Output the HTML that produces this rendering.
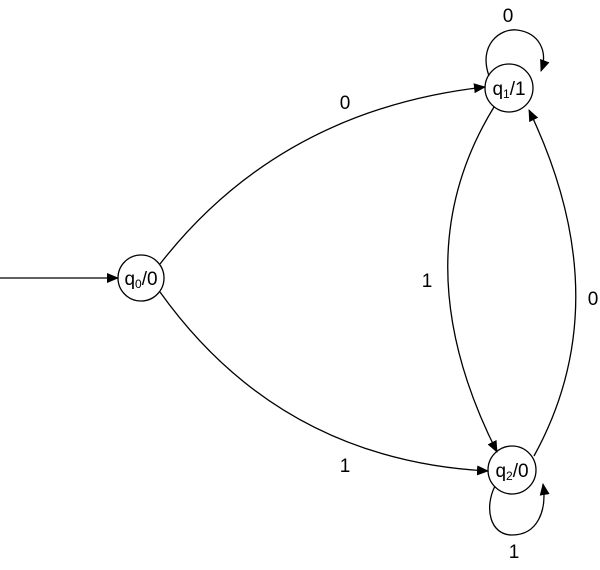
<!DOCTYPE html>
<html><head><style>body{margin:0;background:#fff}svg{display:block}</style></head><body>
<svg width="600" height="570" viewBox="0 0 600 570" xmlns="http://www.w3.org/2000/svg">
<defs><marker id="a" markerWidth="12" markerHeight="10" refX="11" refY="5" orient="auto" markerUnits="userSpaceOnUse"><path d="M0,0 L12,5 L0,10 z" fill="#000"/></marker></defs>
<g fill="none" stroke="#000" stroke-width="1.3">
<circle cx="141" cy="278" r="23"/>
<circle cx="509" cy="88" r="24"/>
<circle cx="512" cy="470" r="24"/>
<line x1="0" y1="278" x2="118" y2="278" marker-end="url(#a)"/>
<path d="M160,264 Q280,110 485,87" marker-end="url(#a)"/>
<path d="M160,292 Q280,460 488,471" marker-end="url(#a)"/>
<path d="M494,107 Q400,260 497,452" marker-end="url(#a)"/>
<path d="M534,456 Q620,300 529,110" marker-end="url(#a)"/>
<path d="M489,76 C478,45 500,28 517,30 C540,33 548,52 541,71" marker-end="url(#a)"/>
<path d="M495,486 C484,508 490,535 512,535 C538,535 547,510 543,484" marker-end="url(#a)"/>
</g>
<g font-family="Liberation Sans, sans-serif" font-size="19" fill="#000" text-anchor="middle">
<text x="141" y="285">q<tspan font-size="12" dy="3">0</tspan><tspan dy="-3">/0</tspan></text>
<text x="509" y="95">q<tspan font-size="12" dy="3">1</tspan><tspan dy="-3">/1</tspan></text>
<text x="512" y="477">q<tspan font-size="12" dy="3">2</tspan><tspan dy="-3">/0</tspan></text>
<text x="345" y="109">0</text>
<text x="345" y="472">1</text>
<text x="427" y="287">1</text>
<text x="593" y="305">0</text>
<text x="508" y="22">0</text>
<text x="514" y="558">1</text>
</g>
</svg>
</body></html>
